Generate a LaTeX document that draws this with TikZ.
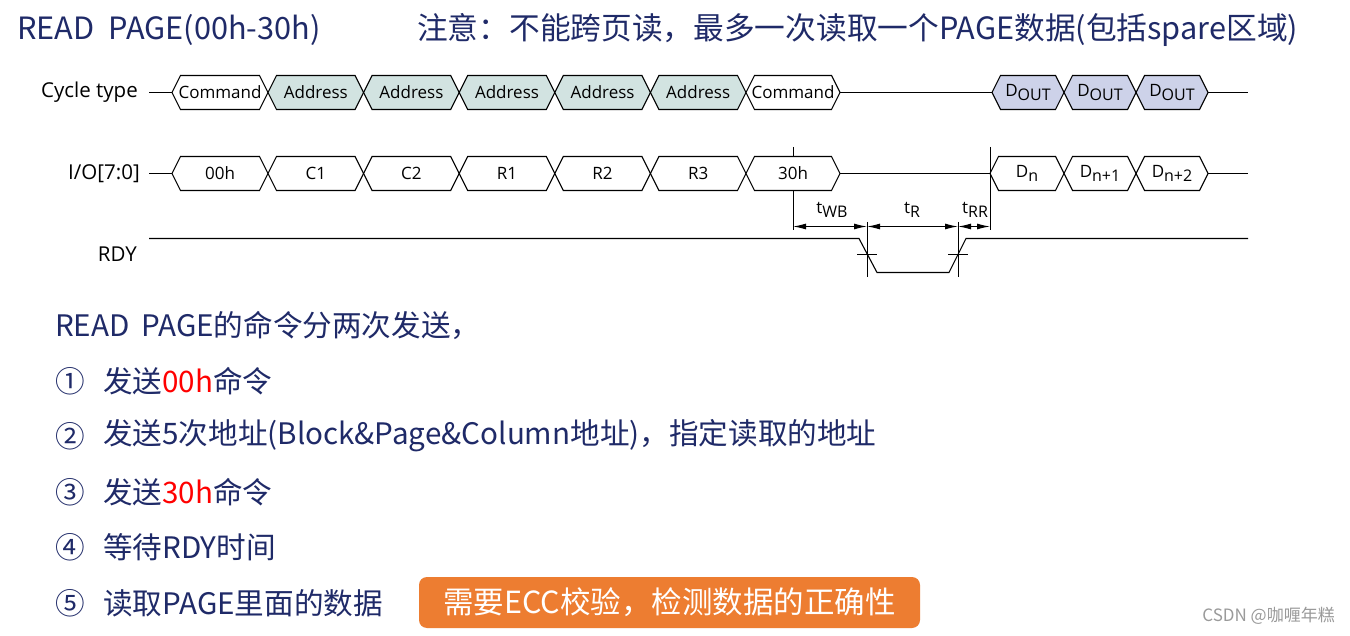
\documentclass[tikz,border=0pt]{standalone}
\usepackage{fontspec}
\usetikzlibrary{arrows.meta}
\newfontfamily\cjk{Noto Sans CJK SC}
\newfontfamily\dfont{Open Sans}
\definecolor{navy}{HTML}{1F2A68}
\definecolor{adrfill}{HTML}{D2E3E1}
\definecolor{doutfill}{HTML}{CDD2E9}
\definecolor{eccorange}{HTML}{ED7D31}
\definecolor{wmgrey}{HTML}{9A9A9A}
\newcommand\busbox[6]{%
  \path[draw=black,line width=1.1pt,fill=#5,line join=miter]
    (#2,#4) -- ({#2+8.5},{#4-17}) -- ({#3-8.5},{#4-17}) -- (#3,#4)
    -- ({#3-8.5},{#4+17}) -- ({#2+8.5},{#4+17}) -- cycle;
  \node[lbl] (#1) at ({(#2+#3)/2},#4) {#6};}
\newcommand\sub[1]{\raisebox{-4.5pt}{\fontsize{16}{16}\selectfont #1}}
\begin{document}
\begin{tikzpicture}[x=1pt,y=-1pt,
  lbl/.style={inner sep=0pt,font=\dfont\fontsize{17}{17}\selectfont},
  sig/.style={inner sep=0pt,anchor=east,font=\dfont\fontsize{20.5}{21}\selectfont},
  wire/.style={line width=1.1pt},
  dim/.style={line width=1.1pt,{Latex[length=13pt,width=6pt]}-{Latex[length=13pt,width=6pt]}},
  tlbl/.style={inner sep=0pt,font=\dfont\fontsize{17}{17}\selectfont},
  title/.style={inner sep=0pt,anchor=west,text=navy,font=\cjk\fontsize{30.7}{31}\selectfont},
  body/.style={inner sep=0pt,anchor=west,text=navy,font=\cjk\fontsize{29.6}{30}\selectfont},
  ecc/.style={fill=eccorange,rounded corners=8pt,inner sep=0pt,text=white,
    minimum width=501pt,minimum height=51pt,font=\cjk\fontsize{30.5}{31}\selectfont}]
\useasboundingbox (0,0) rectangle (1350,636);
\fill[white] (0,0) rectangle (1350,636);

% titles
\node[title] (t1) at (17,30) {READ\ \ PAGE(00h-30h)};
\node[title] (t2) at (417,30) {注意：不能跨页读，最多一次读取一个PAGE数据(包括spare区域)};

% signal names
\node[sig] (cyc) at (138,92.5) {Cycle type};
\node[sig] (io) at (140,173.5) {I/O[7:0]};
\node[sig] (rdy) at (137,254) {RDY};

% cycle type row
\coordinate (cyL) at (149,92.5);
\coordinate (cyA) at (172,92.5);
\draw[wire] (cyL) -- (cyA);
\busbox{cmd1}{172}{268}{92.5}{white}{Command}
\busbox{adr1}{268}{363.6}{92.5}{adrfill}{Address}
\busbox{adr2}{363.6}{459.2}{92.5}{adrfill}{Address}
\busbox{adr3}{459.2}{554.8}{92.5}{adrfill}{Address}
\busbox{adr4}{554.8}{650.4}{92.5}{adrfill}{Address}
\busbox{adr5}{650.4}{746}{92.5}{adrfill}{Address}
\busbox{cmd2}{746}{840}{92.5}{white}{Command}
\coordinate (cyB) at (840,92.5);
\coordinate (cyC) at (992,92.5);
\draw[wire] (cyB) -- (cyC);
\busbox{dout1}{992}{1064}{92.5}{doutfill}{D\sub{OUT}}
\busbox{dout2}{1064}{1136}{92.5}{doutfill}{D\sub{OUT}}
\busbox{dout3}{1136}{1208}{92.5}{doutfill}{D\sub{OUT}}
\coordinate (cyD) at (1208,92.5);
\coordinate (cyE) at (1248,92.5);
\draw[wire] (cyD) -- (cyE);

% I/O row
\coordinate (ioL) at (149,173.5);
\coordinate (ioA) at (172,173.5);
\draw[wire] (ioL) -- (ioA);
\busbox{b00}{172}{268}{173.5}{white}{00h}
\busbox{bc1}{268}{363.6}{173.5}{white}{C1}
\busbox{bc2}{363.6}{459.2}{173.5}{white}{C2}
\busbox{br1}{459.2}{554.8}{173.5}{white}{R1}
\busbox{br2}{554.8}{650.4}{173.5}{white}{R2}
\busbox{br3}{650.4}{746}{173.5}{white}{R3}
\busbox{b30}{746}{840}{173.5}{white}{30h}
\coordinate (ioB) at (840,173.5);
\coordinate (ioC) at (990,173.5);
\draw[wire] (ioB) -- (ioC);
\busbox{bdn}{990}{1064}{173.5}{white}{D\sub{n}}
\busbox{bdn1}{1064}{1136}{173.5}{white}{D\sub{n+1}}
\busbox{bdn2}{1136}{1208}{173.5}{white}{D\sub{n+2}}
\coordinate (ioD) at (1208,173.5);
\coordinate (ioE) at (1248,173.5);
\draw[wire] (ioD) -- (ioE);

% RDY
\coordinate (r0) at (149,238.5);
\coordinate (r1) at (859,238.5);
\coordinate (r2) at (877,272.5);
\coordinate (r3) at (949,272.5);
\coordinate (r4) at (966,238.5);
\coordinate (r5) at (1248,238.5);
\draw[wire,line join=miter] (r0) -- (r1) -- (r2) -- (r3) -- (r4) -- (r5);

% timing references
\coordinate (v1t) at (793,147);  \coordinate (v1m) at (793,156.5);
\coordinate (v1n) at (793,190.5);  \coordinate (v1b) at (793,230);
\coordinate (v4t) at (990,147);  \coordinate (v4b) at (990,230);
\coordinate (v2t) at (867,222);  \coordinate (v2b) at (867,277);
\coordinate (v3t) at (958,222);  \coordinate (v3b) at (958,277);
\draw[line width=1pt] (v1t) -- (v1m);
\draw[line width=1pt] (v1n) -- (v1b);
\draw[line width=1pt] (v4t) -- (v4b);
\draw[line width=1pt] (v2t) -- (v2b);
\draw[line width=1pt] (v3t) -- (v3b);
\coordinate (h2l) at (857,254.5); \coordinate (h2r) at (877,254.5);
\coordinate (h3l) at (948,254.5); \coordinate (h3r) at (968,254.5);
\draw[line width=1pt] (h2l) -- (h2r);
\draw[line width=1pt] (h3l) -- (h3r);
\coordinate (a1) at (793,226.5);
\coordinate (a2) at (867,226.5);
\coordinate (a3) at (958,226.5);
\coordinate (a4) at (990,226.5);
\draw[dim] (a1) -- (a2);
\draw[dim] (a2) -- (a3);
\draw[dim] (a3) -- (a4);
\node[tlbl] (twb) at (832,210) {t\sub{WB}};
\node[tlbl] (tr) at (912,210) {t\sub{R}};
\node[tlbl] (trr) at (975,210) {t\sub{RR}};

% body text
\node[body] (l0) at (55,325) {READ\ \,PAGE的命令分两次发送，};
\node[body] (n1) at (55,381) {①};
\node[body] (l1) at (103,381) {发送\textcolor{red}{00h}命令};
\node[body] (n2) at (55,436) {②};
\node[body] (l2) at (103,436) {发送5次地址(Block\&Page\&Column地址)，指定读取的地址};
\node[body] (n3) at (55,492) {③};
\node[body] (l3) at (103,492) {发送\textcolor{red}{30h}命令};
\node[body] (n4) at (55,547) {④};
\node[body] (l4) at (103,547) {等待RDY时间};
\node[body] (n5) at (55,603) {⑤};
\node[body] (l5) at (103,603) {读取PAGE里面的数据};
\node[ecc] (eccbox) at (669.5,602.5) {需要ECC校验，检测数据的正确性};

% watermark
\node[inner sep=0pt,anchor=east,text=wmgrey,font=\cjk\fontsize{17}{17}\selectfont] (wm) at (1335,616) {CSDN @咖喱年糕};
\end{tikzpicture}
\end{document}
